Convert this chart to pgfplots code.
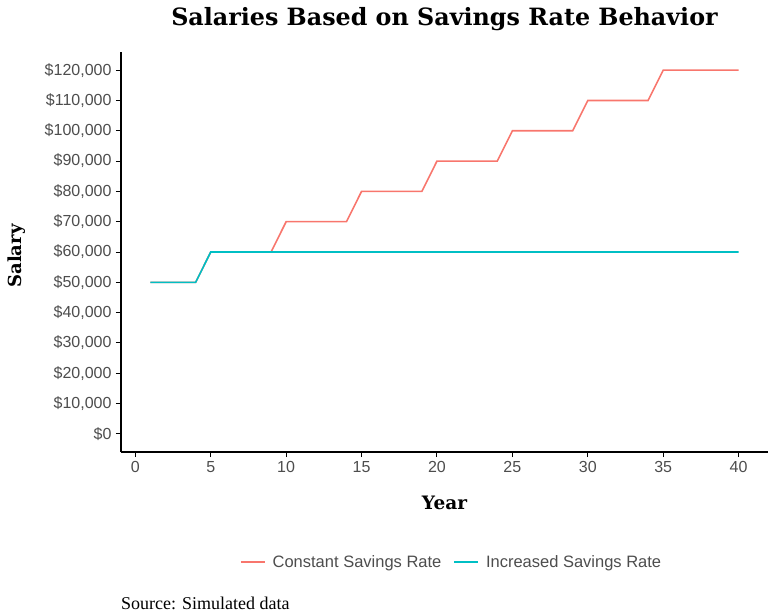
\documentclass[border=0pt]{standalone}
\usepackage{pgfplots}
\pgfplotsset{compat=1.18}
\usepackage{pgfplotstable}
\usepackage{fontspec}
\setmainfont{Liberation Serif}
\setsansfont{Liberation Sans}
\newfontfamily\titlefont{DejaVu Serif}
\definecolor{cred}{HTML}{F8766D}
\definecolor{cteal}{HTML}{00BFC4}
\definecolor{tickgray}{HTML}{4D4D4D}
\pgfplotstableread{
year constant increased
1 50000 50000
2 50000 50000
3 50000 50000
4 50000 50000
5 60000 60000
6 60000 60000
7 60000 60000
8 60000 60000
9 60000 60000
10 70000 60000
11 70000 60000
12 70000 60000
13 70000 60000
14 70000 60000
15 80000 60000
16 80000 60000
17 80000 60000
18 80000 60000
19 80000 60000
20 90000 60000
21 90000 60000
22 90000 60000
23 90000 60000
24 90000 60000
25 100000 60000
26 100000 60000
27 100000 60000
28 100000 60000
29 100000 60000
30 110000 60000
31 110000 60000
32 110000 60000
33 110000 60000
34 110000 60000
35 120000 60000
36 120000 60000
37 120000 60000
38 120000 60000
39 120000 60000
40 120000 60000
}\salary
\begin{document}
\begin{tikzpicture}
\path[use as bounding box] (0,0) rectangle (773pt,614pt);
\begin{axis}[
  at={(121pt,162pt)}, anchor=south west,
  scale only axis, width=647pt, height=400pt,
  xmin=-0.95, xmax=41.95, ymin=-6000, ymax=126000,
  axis x line*=bottom, axis y line*=left,
  axis line style={line width=1.2pt, black, -},
  xtick={0,5,...,40},
  ytick={0,10000,...,120000},
  scaled y ticks=false,
  yticklabels={\$0,\$10{,}000,\$20{,}000,\$30{,}000,\$40{,}000,\$50{,}000,\$60{,}000,\$70{,}000,\$80{,}000,\$90{,}000,\$100{,}000,\$110{,}000,\$120{,}000},
  tick style={line width=1pt, black},
  tick align=outside, major tick length=5pt,
  /pgf/number format/assume math mode=true,
  ticklabel style={font=\sffamily\fontsize{16}{18}\selectfont, text=tickgray},
  xticklabel style={yshift=-1pt},
  yticklabel style={xshift=-1pt},
  title={Salaries Based on Savings Rate Behavior},
  title style={font=\titlefont\bfseries\fontsize{23.8}{27}\selectfont, at={(axis description cs:0.5,1.068)}, anchor=center, yshift=0pt},
  xlabel={Year},
  xlabel style={font=\titlefont\bfseries\fontsize{18.5}{21}\selectfont, at={(axis description cs:0.5,-0.128)}, anchor=center, yshift=0pt},
  ylabel={Salary},
  ylabel style={font=\titlefont\bfseries\fontsize{18}{21}\selectfont, at={(axis description cs:-0.162,0.49)}, anchor=center, xshift=0pt, yshift=0pt},
  legend columns=2,
  legend style={draw=none, fill=none, at={(axis description cs:0.511,-0.275)}, anchor=center,
    font=\sffamily\fontsize{16.5}{18}\selectfont, text=tickgray,
    /tikz/every odd column/.append style={column sep=5pt},
    /tikz/every even column/.append style={column sep=10pt}},
  legend image code/.code={\draw[#1] (0pt,0pt) -- (24pt,0pt);},
  clip=false,
]
\addplot[cred, line width=1.6pt] table[x=year, y=constant] {\salary};
\addlegendentry{Constant Savings Rate}
\addplot[cteal, line width=1.6pt] table[x=year, y=increased] {\salary};
\addlegendentry{Increased Savings Rate}
\node[anchor=west, inner sep=0pt, font=\fontsize{18}{20}\selectfont] at (axis description cs:0,-0.3775) {Source: Simulated data};
\end{axis}
\end{tikzpicture}
\end{document}
